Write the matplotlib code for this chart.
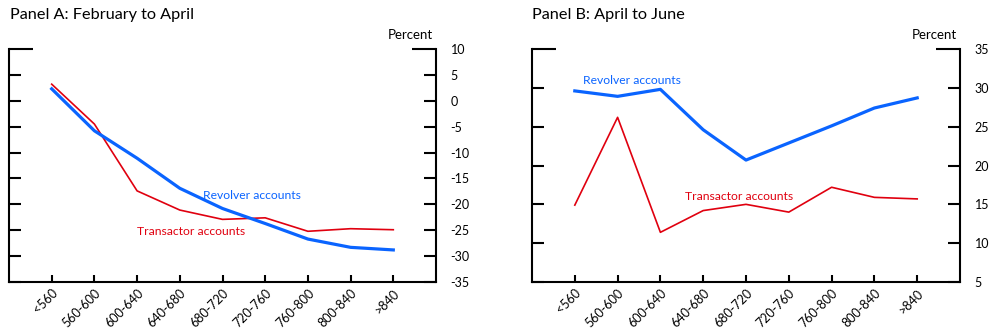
import numpy as np
import matplotlib.pyplot as plt

plt.rcParams['font.family'] = ['Lato', 'DejaVu Sans']
plt.rcParams['axes.unicode_minus'] = False

# FICO score buckets
buckets = ['<560', '560-600', '600-640', '640-680', '680-720',
           '720-760', '760-800', '800-840', '>840']

# Panel A: change from February to April (percent)
revolver_a = [2.3, -5.8, -11.1, -16.9, -20.8, -23.7, -26.7, -28.3, -28.8]
transactor_a = [3.2, -4.5, -17.4, -21.1, -22.9, -22.6, -25.2, -24.7, -24.9]

# Panel B: change from April to June (percent)
revolver_b = [29.6, 28.9, 29.8, 24.6, 20.7, 22.9, 25.1, 27.4, 28.7]
transactor_b = [14.9, 26.2, 11.4, 14.2, 15.0, 14.0, 17.2, 15.9, 15.7]

BLUE = '#0a64ff'
RED = '#e0000f'

fig = plt.figure(figsize=(10, 3.33), dpi=100)
ax_a = fig.add_axes([0.009, 0.153, 0.427, 0.700])
ax_b = fig.add_axes([0.532, 0.153, 0.428, 0.700])


def style_panel(ax, title, ymin, ymax, title_x):
    x = np.arange(len(buckets))
    ax.set_xlim(-1, len(buckets))
    ax.set_ylim(ymin, ymax)
    ax.spines['top'].set_visible(False)
    for s in ['left', 'right', 'bottom']:
        ax.spines[s].set_linewidth(1.5)
    ax.set_xticks(x)
    ax.set_xticklabels(buckets, rotation=45, ha='right', va='top',
                       rotation_mode='anchor', fontsize=9)
    ax.tick_params(axis='x', direction='in', length=5, width=1.5, pad=3.5)
    ax.set_yticks(np.arange(ymin, ymax + 1, 5))
    ax.yaxis.set_ticks_position('both')
    ax.tick_params(axis='y', direction='in', length=8.5, width=1.5,
                   labelleft=False, labelright=True, labelsize=9, pad=10.5)
    # the tick at the top of the scale is drawn longer
    top = ax.yaxis.get_major_ticks()[-1]
    top.tick1line.set_markersize(17)
    top.tick2line.set_markersize(17)
    ax.text(0.993, 1.035, 'Percent', transform=ax.transAxes, ha='right',
            va='bottom', fontsize=9.5)
    fig.text(title_x, 0.955, title, ha='left', va='center', fontsize=11.7)
    return x


x = style_panel(ax_a, 'Panel A: February to April', -35, 10, 0.010)
ax_a.plot(x, transactor_a, color=RED, lw=1.2)
ax_a.plot(x, revolver_a, color=BLUE, lw=2.3)
ax_a.text(3.55, -18.2, 'Revolver accounts', color=BLUE, fontsize=8.7,
          va='center')
ax_a.text(2.0, -25.2, 'Transactor accounts', color=RED, fontsize=8.7,
          va='center')

x = style_panel(ax_b, 'Panel B: April to June', 5, 35, 0.532)
ax_b.plot(x, transactor_b, color=RED, lw=1.2)
ax_b.plot(x, revolver_b, color=BLUE, lw=2.3)
ax_b.text(0.18, 31.0, 'Revolver accounts', color=BLUE, fontsize=8.7,
          va='center')
ax_b.text(2.58, 16.0, 'Transactor accounts', color=RED, fontsize=8.7,
          va='center')

fig.savefig('out.png', dpi=100)
